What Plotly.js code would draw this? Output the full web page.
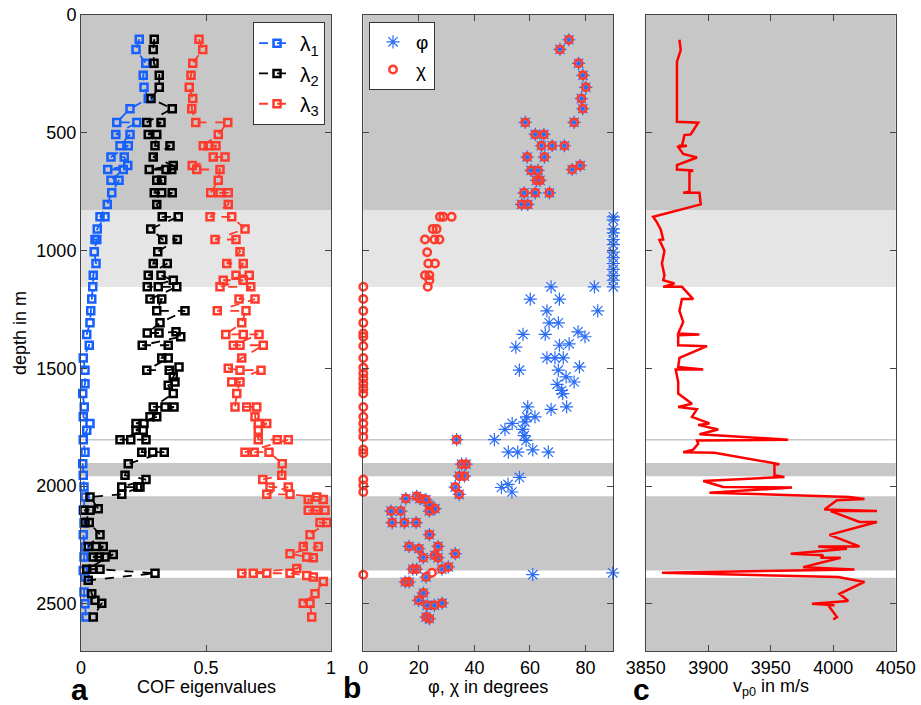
<!DOCTYPE html>
<html><head><meta charset="utf-8">
<script src="https://cdn.plot.ly/plotly-3.0.1.min.js"></script>
<style>body{margin:0;background:#fff}</style>
</head><body><div id="chart" style="width:921px;height:705px"></div>
<script>
// ---- data: [depth in m, value] ----
const lambda1 = [[103,.233],[146,.22],[205,.259],[256,.249],[307,.252],[355,.269],[398,.196],[456,.143],[456,.223],[507,.139],[507,.196],[555,.156],[555,.189],[603,.12],[603,.173],[639,.187],[656,.107],[656,.169],[702,.12],[702,.152],[755,.123],[804,.105],[857,.076],[857,.096],[908,.065],[953,.056],[953,.063],[1005,.053],[1055,.06],[1105,.049],[1154,.047],[1206,.043],[1256,.039],[1307,.036],[1356,.023],[1402,.033],[1456,.009],[1508,.016],[1565,.016],[1607,.007],[1664,.013],[1706,.009],[1734,.036],[1763,.023],[1803,.009],[1856,.016],[1905,.007],[1954,.009],[2004,.012],[2046,.016],[2103,.009],[2157,.012],[2206,.009],[2259,.016],[2301,.012],[2358,.009],[2386,.016],[2450,.012],[2499,.016],[2556,.02]];
const lambda2 = [[103,.293],[146,.289],[205,.292],[256,.313],[307,.313],[355,.28],[398,.365],[456,.263],[456,.32],[507,.269],[507,.303],[555,.296],[555,.356],[603,.289],[639,.369],[656,.273],[656,.34],[656,.363],[702,.303],[702,.323],[755,.293],[755,.323],[755,.365],[804,.303],[857,.325],[857,.389],[908,.279],[953,.327],[953,.385],[1005,.307],[1055,.289],[1055,.345],[1105,.269],[1105,.32],[1126,.369],[1154,.265],[1154,.309],[1154,.383],[1206,.276],[1206,.323],[1256,.303],[1256,.416],[1307,.316],[1350,.265],[1350,.312],[1345,.38],[1366,.399],[1402,.245],[1402,.349],[1456,.323],[1456,.349],[1508,.263],[1508,.353],[1494,.392],[1536,.369],[1558,.376],[1572,.349],[1607,.369],[1664,.289],[1664,.336],[1664,.372],[1706,.276],[1706,.303],[1734,.22],[1734,.252],[1763,.22],[1763,.249],[1803,.156],[1803,.199],[1803,.26],[1856,.243],[1856,.287],[1856,.333],[1905,.189],[1954,.176],[1972,.26],[2004,.163],[2004,.227],[2004,.236],[2035,.163],[2046,.036],[2096,.069],[2103,.012],[2103,.036],[2155,.016],[2155,.033],[2206,.076],[2256,.029],[2256,.06],[2256,.089],[2301,.049],[2301,.073],[2301,.096],[2290,.129],[2353,.023],[2353,.047],[2353,.076],[2370,.296],[2400,.029],[2457,.043],[2485,.056],[2497,.083],[2556,.049]];
const lambda3 = [[103,.472],[146,.487],[205,.447],[256,.44],[307,.433],[355,.447],[398,.443],[456,.459],[456,.587],[507,.549],[555,.489],[555,.509],[555,.54],[603,.529],[603,.576],[639,.445],[656,.463],[656,.556],[702,.549],[755,.519],[755,.556],[755,.589],[804,.589],[857,.516],[857,.603],[908,.656],[953,.536],[953,.62],[1005,.636],[1055,.583],[1055,.649],[1105,.62],[1105,.673],[1126,.569],[1126,.649],[1154,.556],[1154,.679],[1206,.632],[1206,.696],[1256,.545],[1256,.66],[1307,.643],[1356,.579],[1356,.649],[1356,.712],[1402,.609],[1402,.636],[1402,.729],[1456,.643],[1500,.589],[1508,.636],[1508,.72],[1558,.603],[1558,.636],[1607,.623],[1664,.616],[1664,.663],[1664,.703],[1706,.696],[1734,.709],[1734,.743],[1763,.709],[1803,.709],[1803,.785],[1803,.829],[1856,.656],[1856,.693],[1856,.752],[1905,.805],[1954,.803],[1972,.727],[2004,.756],[2004,.829],[2035,.743],[2035,.836],[2046,.943],[2057,.969],[2057,.909],[2103,.909],[2103,.976],[2103,.943],[2155,.956],[2155,.983],[2206,.916],[2256,.889],[2256,.949],[2287,.836],[2301,.903],[2304,.929],[2350,.863],[2370,.643],[2370,.689],[2370,.743],[2370,.836],[2380,.903],[2386,.929],[2405,.969],[2457,.936],[2497,.889],[2497,.916],[2556,.923]];

const phi = [[105,74],[146,70.8],[205,77.5],[256,79.1],[307,80.1],[355,78.5],[398,79],[456,58.3],[456,75.9],[507,61.9],[507,65],[555,64.1],[555,68],[555,72.4],[603,59],[603,65.2],[639,78.1],[656,75.2],[660,60.4],[660,62.9],[702,62.4],[702,63.6],[755,57.9],[755,61.9],[755,67],[804,57],[804,59.2],
 [857,90],[870,90],[908,90],[925,90],[953,90],[975,90],[1007,90],[1030,90],[1055,90],[1080,90],[1105,90],[1126,90],[1154,90],
 [1154,67.6],[1154,83.2],[1206,60.1],[1206,70.6],[1256,66.1],[1256,84.4],[1307,66.9],[1307,70.2],[1345,77.3],[1356,57.5],[1356,65.5],[1366,79.8],[1396,74.1],[1402,70.6],[1410,54.9],[1456,66.1],[1456,69],[1456,72],[1494,77.8],[1508,56.2],[1508,70.2],[1536,73],[1558,75.9],[1568,69.8],[1594,71.4],[1607,71.8],[1664,73.2],[1664,59.2],[1674,67.6],[1706,61.8],[1706,58.8],[1727,58.2],[1734,53.6],[1759,51],[1759,57.4],[1786,57.9],[1803,47.2],[1806,58.6],[1846,61],[1856,52.2],[1856,55.6],[1856,66.6],
 [1803,33.6],[1907,35.4],[1907,37],[1958,34.6],[1958,36.4],[2004,33.1],[2035,34.5],[1963,56.2],[1993,52.1],[2006,49.7],[2025,53.5],
 [2043,19.2],[2053,15.3],[2053,20.4],[2057,22.5],[2082,23.8],[2096,25.8],[2106,23.8],[2106,10],[2106,13.5],[2155,10.4],[2155,14.8],[2155,19],[2206,23.8],[2256,16.5],[2266,20],[2256,26.9],[2304,21.6],[2294,25.7],[2304,26.9],[2287,33.1],[2353,17.8],[2353,19.2],[2353,28.3],[2343,30.6],[2368,89.8],[2376,61],[2386,22.6],
 [2407,15.1],[2407,16.5],[2454,21.6],[2485,19.9],[2506,23],[2506,25.6],[2497,28.4],[2556,22.6],[2563,23.8]];
const chi = [[105,74],[146,70.8],[205,77.5],[256,79.1],[307,80.1],[355,78.5],[398,79],[456,58.3],[456,75.9],[507,61.9],[507,65],[555,64.1],[555,68],[555,72.4],[603,59],[603,65.2],[639,78.1],[656,75.2],[660,60.4],[660,62.9],[702,62.4],[702,63.6],[755,57.9],[755,61.9],[755,67],[804,57],[804,59.2],
 [857,27.6],[857,28.8],[857,31.8],[908,25],[908,26.4],[953,22.2],[953,25.6],[953,27.4],[1007,23],[1055,23.4],[1055,25.8],[1105,22.2],[1105,23.8],[1126,23.8],[1154,23.2],
 [1154,0],[1206,0],[1256,0],[1307,0],[1352,0],[1366,0],[1405,0],[1456,0],[1497,0],[1522,0],[1543,0],[1565,0],[1586,0],[1607,0],[1664,0],[1706,0],[1734,0],[1763,0],[1791,0],[1845,0],[1860,0],
 [1803,33.6],[1907,35.4],[1907,37],[1958,34.6],[1958,36.4],[2004,33.1],[2035,34.5],[1972,0],[1997,0],[2025,0],
 [2043,19.2],[2053,15.3],[2053,20.4],[2057,22.5],[2082,23.8],[2096,25.8],[2106,23.8],[2106,10],[2106,13.5],[2155,10.4],[2155,14.8],[2155,19],[2206,23.8],[2256,16.5],[2266,20],[2256,26.9],[2304,21.6],[2294,25.7],[2304,26.9],[2287,33.1],[2353,17.8],[2353,19.2],[2353,28.3],[2343,30.6],[2368,24.7],[2376,0],[2386,22.6],
 [2407,15.1],[2407,16.5],[2454,21.6],[2485,19.9],[2506,23],[2506,25.6],[2497,28.4],[2556,22.6],[2563,23.8]];

const vp0 = [[105,3877],[149,3878],[198,3875],[453,3875],[457,3892],[507,3886],[510,3881],[555,3879],[555,3876],[555,3883],[560,3876],[590,3880],[605,3891],[637,3875],[656,3875],[660,3888],[665,3885],[705,3885],[750,3885],[755,3880],[755,3893],[804,3894],[857,3856],[880,3859],[900,3861],[910,3862],[953,3864],[955,3861],[1001,3865],[1055,3863],[1105,3865],[1126,3864],[1140,3873],[1154,3864],[1154,3879],[1206,3888],[1206,3879],[1256,3877],[1303,3880],[1352,3876],[1356,3893],[1360,3876],[1402,3876],[1406,3899],[1456,3877],[1494,3876],[1505,3896],[1505,3874],[1558,3876],[1607,3876],[1650,3887],[1664,3876],[1674,3891],[1706,3887],[1734,3901],[1740,3892],[1760,3908],[1780,3893],[1803,3964],[1806,3891],[1820,3892],[1845,3888],[1856,3880],[1858,3905],[1907,3957],[1907,3953],[1954,3953],[1961,3961],[1978,3896],[2004,3912],[2006,3967],[2028,3901],[2046,4013],[2055,4025],[2060,4003],[2099,3993],[2106,4035],[2106,3998],[2152,4021],[2152,4035],[2207,3997],[2256,4021],[2256,3988],[2266,4011],[2287,3966],[2294,3992],[2304,3990],[2304,4006],[2344,3976],[2354,4017],[2368,3863],[2386,4004],[2407,4025],[2457,4005],[2488,4012],[2499,3983],[2506,4001],[2506,3996],[2556,4003],[2566,4000]];

// shaded depth intervals [top, bottom, kind]
const bands = [[0,830,'dark'],[830,1155,'light'],[1902,1958,'dark'],[2043,2358,'dark'],[2389,2700,'dark']];
const thinLines = [1803];
const depthTicks = [0,500,1000,1500,2000,2500];

// ---- styles ----
const FONT = 'Liberation Sans, Arial, Helvetica, sans-serif';
const DARK = '#c7c7c7', LIGHT = '#e5e5e5';
const BLUE = '#1560ff', RED = '#ff3b2c', BLACK = '#000000';
const AX = '#444';

function xs(a){return a.map(p=>p[1]);}
function ys(a){return a.map(p=>p[0]);}

const sq = (c)=>({symbol:'square-open', size:7, color:c, line:{color:c, width:2.5}});
const traces = [
  {x:xs(lambda1), y:ys(lambda1), xaxis:'x', yaxis:'y', mode:'lines+markers', name:'λ<sub>1</sub>', cliponaxis:false,
   line:{color:BLUE, width:1.8, dash:'dash'}, marker:sq(BLUE), legend:'legend'},
  {x:xs(lambda2), y:ys(lambda2), xaxis:'x', yaxis:'y', mode:'lines+markers', name:'λ<sub>2</sub>', cliponaxis:false,
   line:{color:BLACK, width:1.8, dash:'dash'}, marker:sq(BLACK), legend:'legend'},
  {x:xs(lambda3), y:ys(lambda3), xaxis:'x', yaxis:'y', mode:'lines+markers', name:'λ<sub>3</sub>', cliponaxis:false,
   line:{color:RED, width:1.8, dash:'dash'}, marker:sq(RED), legend:'legend'},
  {x:xs(phi), y:ys(phi), xaxis:'x2', yaxis:'y2', mode:'markers', name:'φ', cliponaxis:false,
   marker:{symbol:'asterisk-open', size:11, color:'#2a6cf5', line:{color:'#2a6cf5', width:1.2}}, legend:'legend2'},
  {x:xs(chi), y:ys(chi), xaxis:'x2', yaxis:'y2', mode:'markers', name:'χ', cliponaxis:false,
   marker:{symbol:'circle-open', size:7.5, color:RED, line:{color:RED, width:2.5}}, legend:'legend2'},
  {x:xs(vp0), y:ys(vp0), xaxis:'x3', yaxis:'y3', mode:'lines', name:'vp0', showlegend:false,
   line:{color:'#ff0000', width:2.5}}
];

const shapes = [];
['x','x2','x3'].forEach((xa,i)=>{
  const ya = i===0?'y':'y'+(i+1);
  bands.forEach(b=>shapes.push({type:'rect', xref:xa+' domain', yref:ya, x0:0, x1:1, y0:b[0], y1:b[1],
    fillcolor:b[2]==='dark'?DARK:LIGHT, line:{width:0}, layer:'below'}));
  thinLines.forEach(d=>shapes.push({type:'line', xref:xa+' domain', yref:ya, x0:0, x1:1, y0:d, y1:d,
    line:{color:DARK, width:1.5}, layer:'below'}));
});

const W=921, H=705, T=15, B=54;
const PH = H-T-B;
const px = v=>v/W;
const py = v=>(H-B-v)/PH;

const tickFont = {family:FONT, size:18, color:'#000'};
const axBase = {showline:true, linecolor:AX, linewidth:1, mirror:'ticks', ticks:'inside', ticklen:6, tickcolor:AX,
  showgrid:false, zeroline:false, tickfont:tickFont, fixedrange:true};
const yBase = Object.assign({}, axBase, {range:[2700,0], tickvals:depthTicks, autorange:false});

const layout = {
  width:W, height:H, margin:{l:0, r:0, t:T, b:B},
  paper_bgcolor:'#fff', plot_bgcolor:'#fff', font:{family:FONT, color:'#000'},
  xaxis: Object.assign({}, axBase, {domain:[px(81),px(331)], range:[0,1], tickvals:[0,0.5,1], ticktext:['0','0.5','1'], anchor:'y'}),
  yaxis: Object.assign({}, yBase, {anchor:'x'}),
  xaxis2: Object.assign({}, axBase, {domain:[px(363.3),px(613.3)], range:[0,90], tickvals:[0,20,40,60,80], anchor:'y2'}),
  yaxis2: Object.assign({}, yBase, {anchor:'x2', showticklabels:false}),
  xaxis3: Object.assign({}, axBase, {domain:[px(645.7),px(895.7)], range:[3850,4050], tickvals:[3850,3900,3950,4000,4050], anchor:'y3'}),
  yaxis3: Object.assign({}, yBase, {anchor:'x3', showticklabels:false}),
  shapes: shapes,
  showlegend:true,
  legend:{x:px(325), xanchor:'right', y:py(22), yanchor:'top', bgcolor:'#fff', bordercolor:'#333', borderwidth:1,
    font:{family:FONT, size:21, color:'#000'}, itemwidth:36, tracegroupgap:0},
  legend2:{x:px(369), xanchor:'left', y:py(22), yanchor:'top', bgcolor:'#fff', bordercolor:'#333', borderwidth:1,
    font:{family:FONT, size:19, color:'#000'}, itemwidth:36},
  annotations:[
    {text:'COF eigenvalues', xref:'paper', yref:'paper', x:px(206), y:py(687), xanchor:'center', yanchor:'middle', showarrow:false, font:{family:FONT, size:18}},
    {text:'φ, χ in degrees', xref:'paper', yref:'paper', x:px(488), y:py(687), xanchor:'center', yanchor:'middle', showarrow:false, font:{family:FONT, size:18}},
    {text:'v<sub>p0</sub> in m/s', xref:'paper', yref:'paper', x:px(771), y:py(687), xanchor:'center', yanchor:'middle', showarrow:false, font:{family:FONT, size:18}},
    {text:'depth in m', xref:'paper', yref:'paper', x:px(20), y:py(333), xanchor:'center', yanchor:'middle', textangle:-90, showarrow:false, font:{family:FONT, size:18}},
    {text:'<b>a</b>', xref:'paper', yref:'paper', x:px(79), y:py(689), xanchor:'center', yanchor:'middle', showarrow:false, font:{family:FONT, size:30}},
    {text:'<b>b</b>', xref:'paper', yref:'paper', x:px(352), y:py(687), xanchor:'center', yanchor:'middle', showarrow:false, font:{family:FONT, size:30}},
    {text:'<b>c</b>', xref:'paper', yref:'paper', x:px(641), y:py(689), xanchor:'center', yanchor:'middle', showarrow:false, font:{family:FONT, size:30}}
  ]
};

Plotly.newPlot('chart', traces, layout, {displayModeBar:false, staticPlot:true});
</script></body></html>
